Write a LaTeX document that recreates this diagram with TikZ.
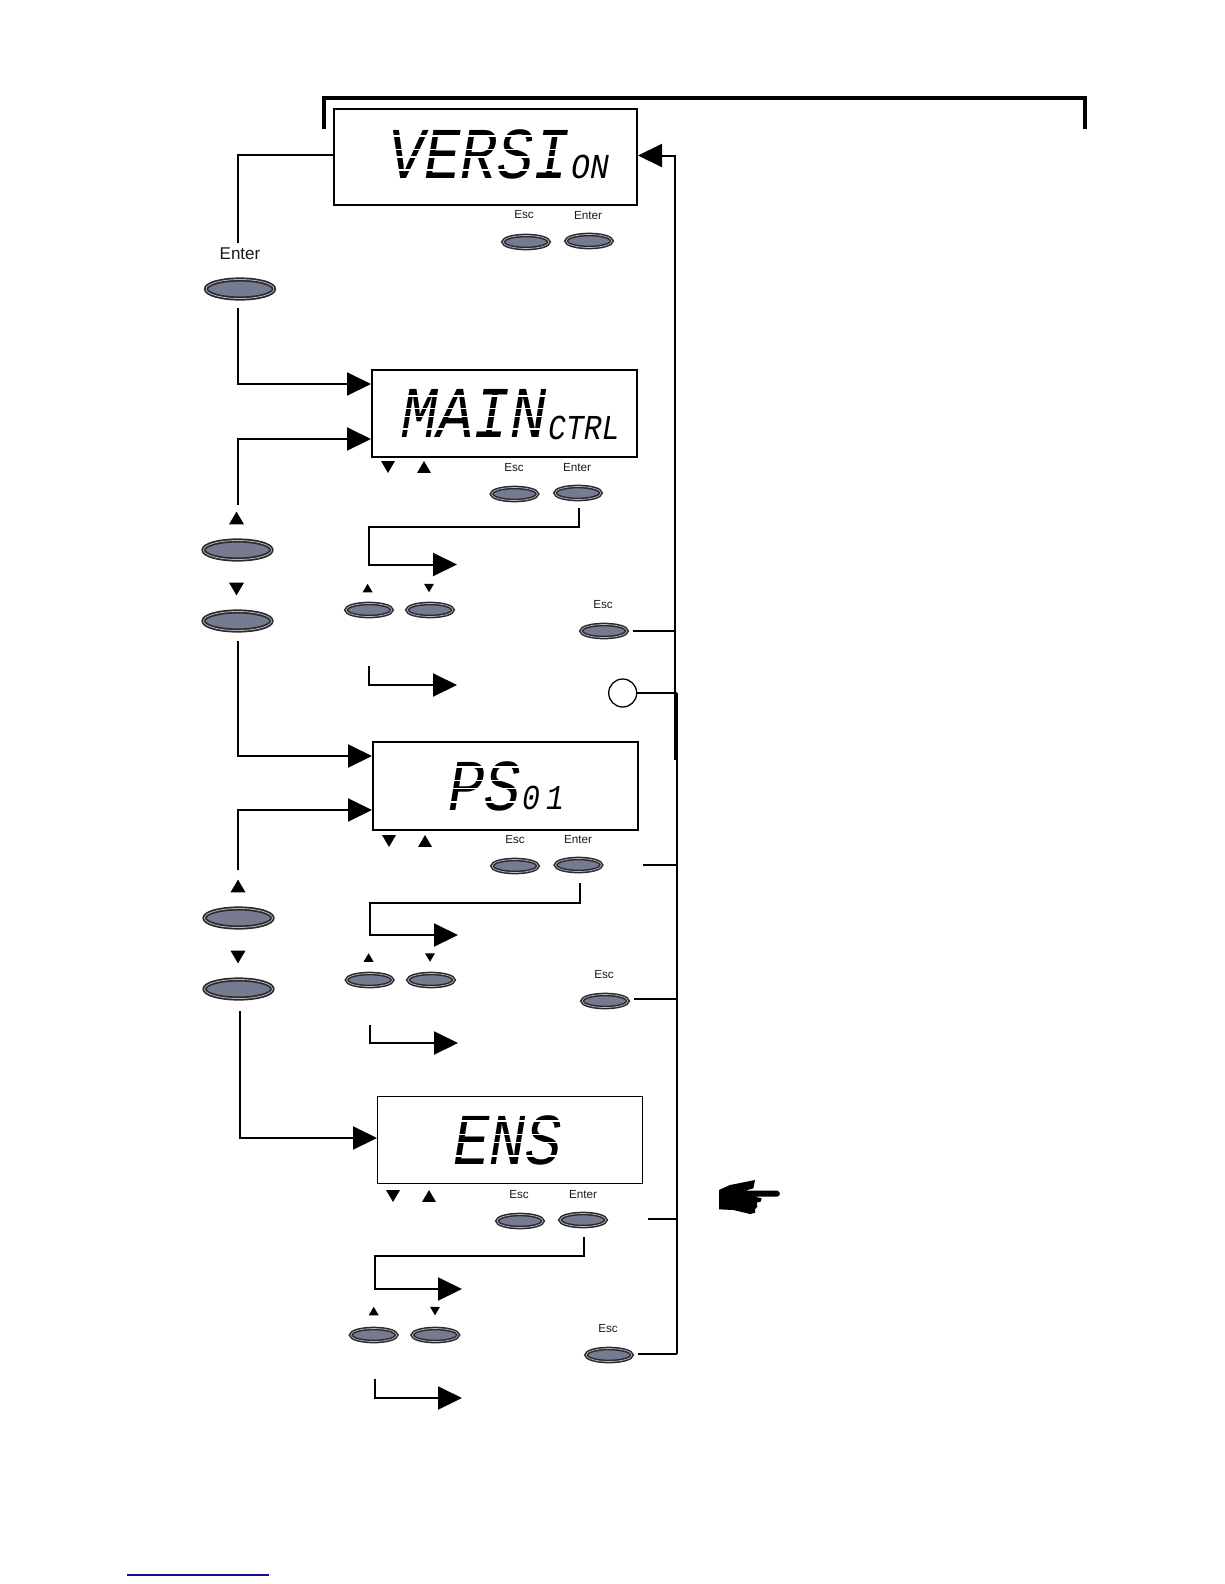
\documentclass[tikz,border=0pt]{standalone}
\usepackage{fontspec}
\setmainfont{Liberation Sans}
\newfontfamily\lcdfont{Liberation Mono}[ItalicFont={Liberation Mono Italic}]
\usetikzlibrary{shapes.geometric,arrows.meta}
\definecolor{btnfill}{HTML}{767B90}
\definecolor{btnring}{HTML}{B4B6C0}
\definecolor{btnedge}{HTML}{2B2B2E}
\definecolor{linkblue}{HTML}{10108C}
\newcommand{\lcdbig}[1]{\scalebox{.83}[1]{\fontsize{73}{73}\lcdfont\itshape #1}}
\newcommand{\lcdsmall}[2][.9]{\scalebox{#1}[1]{\fontsize{35}{35}\lcdfont\itshape #2}}
\newcommand{\tup}[3]{\fill (#1-#3,#2+.85*#3) -- (#1,#2-.85*#3) -- (#1+#3,#2+.85*#3) -- cycle;}
\newcommand{\tdn}[3]{\fill (#1-#3,#2-.85*#3) -- (#1,#2+.85*#3) -- (#1+#3,#2-.85*#3) -- cycle;}
% white gaps that split the letters into display segments: x1, x2, cap top, baseline
\newcommand{\lcdcuts}[4]{%
  \fill[white] (#1,#3+7) rectangle (#2,#3+8.6);
  \fill[white] (#1,#4-8.6) rectangle (#2,#4-7);
  \fill[white] (#1,{(#3+#4)/2-4.5}) rectangle (#2,{(#3+#4)/2-3.2});
  \fill[white] (#1,{(#3+#4)/2+3.2}) rectangle (#2,{(#3+#4)/2+4.5});}
\tikzset{
  x=1pt,y=-1pt,
  lcdbox/.style={draw,line width=2pt,inner sep=0pt,anchor=north west},
  bigbtn/.style={ellipse,draw=btnedge,fill=btnfill,line width=1.7pt,double=btnring,double distance=.8pt,inner sep=0pt,minimum width=68pt,minimum height=19pt},
  smallbtn/.style={ellipse,draw=btnedge,fill=btnfill,line width=1.5pt,double=btnring,double distance=.7pt,inner sep=0pt,minimum width=46pt,minimum height=13pt},
  keylabel/.style={font=\fontsize{11.7}{12}\selectfont,inner sep=0pt,text=black!90},
  bigkeylabel/.style={font=\fontsize{17}{18}\selectfont,inner sep=0pt,text=black!90},
  lcdtext/.style={inner sep=0pt,anchor=base west},
  conn/.style={line width=2pt},
  connarrow/.style={line width=2pt,-{Triangle[length=24pt,width=23pt]}},
}
\begin{document}
\begin{tikzpicture}
\useasboundingbox (0,0) rectangle (1224,1584);
% bracket
\draw[line width=4pt] (324,129) -- (324,98) -- (1084.5,98) -- (1084.5,129);
% display boxes
\node[lcdbox,minimum width=303pt,minimum height=96pt] (versi) at (333,108) {};
\node[lcdbox,minimum width=265pt,minimum height=87pt] (mainbox) at (371,369) {};
\node[lcdbox,minimum width=265pt,minimum height=88pt] (psbox) at (372,741) {};
\node[lcdbox,line width=1.3pt,minimum width=265pt,minimum height=87pt] (ensbox) at (377,1096) {};
% display text
\node[lcdtext] (tversi) at (388,178) {\lcdbig{VERSI}};
\node[lcdtext] (ton) at (571,178) {\lcdsmall{ON}};
\node[lcdtext] (tmain) at (401,437) {\lcdbig{MAIN}};
\node[lcdtext] (tctrl) at (548,439) {\lcdsmall[.85]{CTRL}};
\node[lcdtext] (tps) at (448,810) {\lcdbig{PS}};
\node[lcdtext] (t01) at (522,809) {\lcdsmall[.85]{0\hspace{7pt}1}};
\node[lcdtext] (tens) at (453,1164) {\lcdbig{ENS}};
\lcdcuts{380}{570}{128}{178}
\lcdcuts{395}{547}{388}{437}
\lcdcuts{445}{521}{759}{810}
\lcdcuts{448}{565}{1113}{1164}
% big buttons
\node[bigkeylabel] (lenter) at (240,254) {Enter};
\node[bigbtn] (benter) at (240,289) {};
\node[bigbtn] (bup1) at (237.5,550) {};
\node[bigbtn] (bdn1) at (237.5,621) {};
\node[bigbtn] (bup2) at (238.5,918) {};
\node[bigbtn] (bdn2) at (238.5,989) {};
% keys beside the displays
\node[keylabel] (l0e) at (524,215) {Esc};
\node[keylabel] (l0n) at (588,216) {Enter};
\node[smallbtn] (b0e) at (526,242) {};
\node[smallbtn] (b0n) at (589,241) {};
\node[keylabel] (l1e) at (514,468) {Esc};
\node[keylabel] (l1n) at (577,468) {Enter};
\node[smallbtn] (b1e) at (514.5,494) {};
\node[smallbtn] (b1n) at (578,493) {};
\node[smallbtn] (b1u) at (369,610) {};
\node[smallbtn] (b1d) at (430,610) {};
\node[keylabel] (l1x) at (603,605) {Esc};
\node[smallbtn] (b1x) at (604,631) {};
\node[circle,draw,line width=1.3pt,inner sep=0pt,minimum size=28pt] (circ) at (622.7,693) {};
\node[keylabel] (l2e) at (515,840) {Esc};
\node[keylabel] (l2n) at (578,840) {Enter};
\node[smallbtn] (b2e) at (515,866) {};
\node[smallbtn] (b2n) at (578.5,865) {};
\node[smallbtn] (b2u) at (369.6,980) {};
\node[smallbtn] (b2d) at (431,980) {};
\node[keylabel] (l2x) at (604,975) {Esc};
\node[smallbtn] (b2x) at (605,1001) {};
\node[keylabel] (l3e) at (519,1195) {Esc};
\node[keylabel] (l3n) at (583,1195) {Enter};
\node[smallbtn] (b3e) at (520,1221) {};
\node[smallbtn] (b3n) at (583,1220) {};
\node[smallbtn] (b3u) at (373.7,1335) {};
\node[smallbtn] (b3d) at (435.3,1335) {};
\node[keylabel] (l3x) at (608,1329) {Esc};
\node[smallbtn] (b3x) at (609,1355) {};
% free connector ends
\coordinate (trunkTop) at (675,155.5);
\coordinate (trunkA) at (675,760);
\coordinate (trunkB) at (676.5,693);
\coordinate (trunkC) at (676.5,1354);
\coordinate (c0a) at (238,155);
\coordinate (c0b) at (238,243);
\coordinate (c1a) at (238,308);
\coordinate (c1b) at (238,384);
\coordinate (c2a) at (238,505);
\coordinate (c2b) at (238,439);
\coordinate (c3a) at (238,641);
\coordinate (c3b) at (238,756);
\coordinate (c4a) at (238,870);
\coordinate (c4b) at (238,810);
\coordinate (c5a) at (239.5,1011);
\coordinate (c5b) at (239.5,1138);
% left-hand connectors
\draw[conn] (versi.west |- c0a) -- (c0a) -- (c0b);
\draw[connarrow] (c1a) -- (c1b) -- (mainbox.west |- c1b);
\draw[connarrow] (c2a) -- (c2b) -- (mainbox.west |- c2b);
\draw[connarrow] (c3a) -- (c3b) -- (psbox.west |- c3b);
\draw[connarrow] (c4a) -- (c4b) -- (psbox.west |- c4b);
\draw[connarrow] (c5a) -- (c5b) -- (ensbox.west |- c5b);
% right-hand trunk
\draw[connarrow] (trunkA) -- (trunkTop) -- (versi.east |- trunkTop);
\draw[conn] (trunkB) -- (trunkC);
\draw[line width=1.3pt] (circ.east) -- (trunkB);
\draw[conn] (b1x.east) ++(5,0) -- (675,631);
\draw[conn] (b2x.east) ++(5,-2) -- (676.5,999);
\draw[conn] (b3x.east) ++(5,-1) -- (trunkC);
\draw[conn,line width=1.5pt] (643,865) -- (677.5,865);
\draw[conn,line width=1.5pt] (647.5,1219) -- (677,1219);
% enter branches
\coordinate (a1) at (457,564.5);
\coordinate (a1b) at (457,685);
\coordinate (a2) at (458,935);
\coordinate (a2b) at (458,1043);
\coordinate (a3) at (462,1289);
\coordinate (a3b) at (462,1398);
\draw[connarrow] (578.5,508) -- (578.5,527) -- (368.5,527) -- (368.5,564.5) -- (a1);
\draw[connarrow] (368.5,666) -- (368.5,685) -- (a1b);
\draw[connarrow] (579.5,883) -- (579.5,903) -- (369.5,903) -- (369.5,935) -- (a2);
\draw[connarrow] (369.5,1025) -- (369.5,1043) -- (a2b);
\draw[connarrow] (584,1237) -- (584,1256) -- (374.5,1256) -- (374.5,1289) -- (a3);
\draw[connarrow] (374.5,1378.5) -- (374.5,1398) -- (a3b);
% triangles
\tup{236.5}{518}{7.5}
\tdn{236.5}{589}{7.5}
\tup{238}{886}{7.5}
\tdn{238}{957}{7.5}
\tdn{388}{467}{7}
\tup{424}{467}{7}
\tup{367.6}{588}{5}
\tdn{429}{588}{5}
\tdn{389}{841}{7}
\tup{425}{841}{7}
\tup{368.6}{957.5}{5}
\tdn{430}{957.5}{5}
\tdn{393}{1196}{7}
\tup{429}{1196}{7}
\tup{373.7}{1311}{5}
\tdn{435}{1311}{5}
% hand
\begin{scope}[shift={(700,1160)},x=.3333pt,y=-.3333pt]
\fill (57,90) -- (90,75) -- (165,60) -- (160,85) -- (135,92) -- (232,92) .. controls (242,95) and (242,107) .. (232,110) -- (165,110) -- (185,115) -- (182,125) -- (170,128) -- (172,140) -- (165,148) -- (166,158) -- (150,162) -- (100,150) -- (57,148) -- cycle;
\end{scope}
% footer rule
\draw[linkblue,line width=1.3pt] (127,1575) -- (269,1575);
\end{tikzpicture}
\end{document}
